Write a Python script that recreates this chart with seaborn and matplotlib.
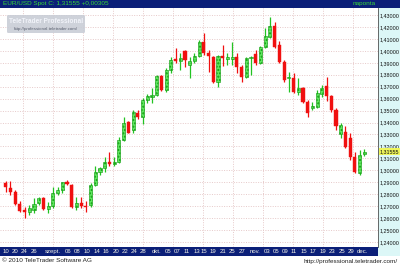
import matplotlib
matplotlib.use('Agg')
import matplotlib.pyplot as plt
import matplotlib.transforms as mtransforms
from matplotlib.patches import Rectangle, FancyBboxPatch
import seaborn as sns
import pandas as pd

# ---------------- data (EUR/USD daily candles) ----------------
opens = [1.2896, 1.2854, 1.2821, 1.2718, 1.2668, 1.2654, 1.2668, 1.2724, 1.2766, 1.2674,
         1.2701, 1.2808, 1.2835, 1.2905, 1.2877, 1.2690, 1.2723, 1.2705, 1.2710, 1.2877,
         1.2988, 1.3017, 1.3072, 1.3053, 1.3072, 1.3254, 1.3407, 1.3334, 1.3481, 1.3444,
         1.3589, 1.3611, 1.3630, 1.3789, 1.3672, 1.3840, 1.3929, 1.3918, 1.3999, 1.3882,
         1.3918, 1.3959, 1.4077, 1.3979, 1.3951, 1.3742, 1.3957, 1.3929, 1.3934, 1.3951,
         1.3862, 1.3784, 1.3937, 1.3973, 1.3896, 1.4029, 1.4118, 1.4208, 1.4049, 1.3909,
         1.3770, 1.3770, 1.3658, 1.3686, 1.3574, 1.3519, 1.3532, 1.3639, 1.3706, 1.3622,
         1.3505, 1.3300, 1.3323, 1.3271, 1.3111, 1.2978, 1.3137]
highs = [1.2912, 1.2913, 1.2835, 1.2740, 1.2696, 1.2710, 1.2768, 1.2779, 1.2779, 1.2737,
         1.2860, 1.2863, 1.2905, 1.2917, 1.2885, 1.2777, 1.2777, 1.2745, 1.2891, 1.3036,
         1.3030, 1.3114, 1.3156, 1.3114, 1.3281, 1.3444, 1.3413, 1.3505, 1.3505, 1.3603,
         1.3639, 1.3687, 1.3798, 1.3798, 1.3854, 1.3946, 1.4021, 1.3979, 1.4007, 1.3951,
         1.3984, 1.4091, 1.4152, 1.4007, 1.3957, 1.3965, 1.4049, 1.3979, 1.4077, 1.3979,
         1.3882, 1.3946, 1.3957, 1.4007, 1.4040, 1.4189, 1.4281, 1.4244, 1.4085, 1.3923,
         1.3826, 1.3812, 1.3770, 1.3700, 1.3589, 1.3574, 1.3672, 1.3714, 1.3784, 1.3630,
         1.3522, 1.3400, 1.3371, 1.3312, 1.3153, 1.3170, 1.3178]
lows = [1.2820, 1.2793, 1.2710, 1.2654, 1.2601, 1.2626, 1.2643, 1.2710, 1.2668, 1.2641,
        1.2682, 1.2793, 1.2808, 1.2877, 1.2682, 1.2668, 1.2682, 1.2654, 1.2696, 1.2869,
        1.2961, 1.2988, 1.3036, 1.3036, 1.3059, 1.3248, 1.3310, 1.3310, 1.3427, 1.3388,
        1.3561, 1.3561, 1.3622, 1.3667, 1.3658, 1.3812, 1.3896, 1.3840, 1.3867, 1.3770,
        1.3896, 1.3951, 1.3965, 1.3825, 1.3734, 1.3700, 1.3873, 1.3882, 1.3882, 1.3812,
        1.3742, 1.3770, 1.3798, 1.3882, 1.3887, 1.4021, 1.4105, 1.4021, 1.3896, 1.3742,
        1.3658, 1.3645, 1.3630, 1.3561, 1.3449, 1.3505, 1.3519, 1.3611, 1.3583, 1.3490,
        1.3340, 1.3270, 1.3184, 1.3086, 1.2978, 1.2961, 1.3120]
closes = [1.2863, 1.2821, 1.2718, 1.2662, 1.2654, 1.2682, 1.2718, 1.2766, 1.2674, 1.2701,
          1.2808, 1.2835, 1.2900, 1.2886, 1.2690, 1.2723, 1.2701, 1.2691, 1.2877, 1.2988,
          1.3017, 1.3072, 1.3053, 1.3072, 1.3254, 1.3398, 1.3315, 1.3491, 1.3444, 1.3589,
          1.3622, 1.3630, 1.3789, 1.3672, 1.3840, 1.3923, 1.3918, 1.3937, 1.3923, 1.3918,
          1.3959, 1.4077, 1.3979, 1.3957, 1.3742, 1.3957, 1.3938, 1.3951, 1.3951, 1.3867,
          1.3784, 1.3938, 1.3951, 1.3901, 1.4029, 1.4124, 1.4208, 1.4029, 1.3909, 1.3756,
          1.3781, 1.3658, 1.3686, 1.3574, 1.3477, 1.3538, 1.3645, 1.3686, 1.3622, 1.3505,
          1.3370, 1.3379, 1.3198, 1.3111, 1.2986, 1.3128, 1.31555]

x_labels = ["10", "20", "24", "26", "szept.", "06", "08", "10", "14", "16", "20", "22", "24",
            "28", "okt.", "05", "07", "11", "13", "15", "19", "21", "25", "27", "nov.", "03",
            "05", "09", "11", "15", "17", "19", "23", "25", "29", "dec."]
x_label_pos = [0, 2, 4, 6, 10, 13.2, 15.1, 17.2, 19.3, 21.2, 23.4, 25.3, 27.2, 29.1, 32,
               34.4, 36.3, 38.4, 40.5, 42, 43.9, 46, 48, 50, 52.8, 55.4, 57.3, 59.2, 61.1,
               63.2, 65.1, 67.2, 69.1, 71.2, 73.1, 75.5]
y_ticks = [1.24, 1.25, 1.26, 1.27, 1.28, 1.29, 1.30, 1.31, 1.32, 1.33, 1.34, 1.35, 1.36,
           1.37, 1.38, 1.39, 1.40, 1.41, 1.42, 1.43]
last_price_label = "1,31555"
title_text = "EUR/USD Spot C: 1,31555 +0,00305"

df = pd.DataFrame({"open": opens, "high": highs, "low": lows, "close": closes})
df["idx"] = range(len(df))
df["up"] = df["close"] >= df["open"]

# ---------------- style ----------------
sns.set_theme(style="white")
plt.rcParams['font.family'] = ['Liberation Sans Narrow', 'Liberation Sans', 'DejaVu Sans']

W, H = 400, 266
fig = plt.figure(figsize=(4.0, 2.66), dpi=100)
fig.patch.set_facecolor('white')

ax_left, ax_right, ax_top, ax_bot = 0, 378, 8, 247
ax = fig.add_axes([ax_left / W, (H - ax_bot) / H, (ax_right - ax_left) / W, (ax_bot - ax_top) / H])
ax.set_facecolor('white')

# right value panel and bars (behind the axes)
fig.patches.append(Rectangle((ax_right / W, (H - 256) / H), (W - ax_right) / W, (256 - ax_top) / H,
                             transform=fig.transFigure, facecolor='#dcf7f7', edgecolor='none', zorder=-2))
navy = '#0b1f78'
fig.patches.append(Rectangle((0, (H - 8) / H), 1, 8 / H, transform=fig.transFigure,
                             facecolor=navy, edgecolor='none', zorder=-1))
fig.patches.append(Rectangle((0, (H - 256) / H), ax_right / W, 9 / H, transform=fig.transFigure,
                             facecolor=navy, edgecolor='none', zorder=-1))

green = '#22c322'
red = '#f01010'
up = df[df["up"]]
dn = df[~df["up"]]

ax.vlines(up["idx"], up["low"], up["high"], color=green, linewidth=0.9, zorder=3)
ax.vlines(dn["idx"], dn["low"], dn["high"], color=red, linewidth=0.9, zorder=3)
ax.bar(up["idx"], (up["close"] - up["open"]).clip(lower=0.00015), bottom=up["open"], width=0.66,
       color='#5ee65e', edgecolor='#0f9a0f', linewidth=0.4, hatch='.....', zorder=4)
ax.bar(dn["idx"], (dn["open"] - dn["close"]).clip(lower=0.00015), bottom=dn["close"], width=0.66,
       color=red, edgecolor=red, linewidth=0.3, zorder=4)

ax.set_xlim(-1.2, 78.9)
ax.set_ylim(1.2358, 1.4359)

# grid
ax.set_yticks(y_ticks)
ax.set_yticklabels([("%.5f" % v).replace('.', ',') for v in y_ticks])
grid_x = [3.73 + 6.36 * k for k in range(12)]
ax.set_xticks(grid_x, minor=True)
ax.set_xticks(x_label_pos)
ax.set_xticklabels(x_labels)
ax.grid(axis='y', which='major', color='#e6c9c9', linestyle=(0, (1, 1.5)), linewidth=0.7, zorder=0)
ax.grid(axis='x', which='minor', color='#e6c9c9', linestyle=(0, (1, 1.5)), linewidth=0.7, zorder=0)
ax.grid(axis='x', which='major', visible=False)

ax.yaxis.tick_right()
ax.tick_params(axis='y', which='both', length=0, pad=1.4, labelsize=3.9, labelcolor='#111111')
ax.tick_params(axis='x', which='both', length=0, pad=1.3, labelsize=4.3, labelcolor='#f4f4e8')

for s in ['left', 'top', 'bottom']:
    ax.spines[s].set_visible(False)
ax.spines['right'].set_color('#505050')
ax.spines['right'].set_linewidth(0.6)

# current price marker
trans = mtransforms.blended_transform_factory(ax.transAxes, ax.transData)
ax.text(1.005, closes[-1], last_price_label, transform=trans, fontsize=3.9, color='#111111',
        ha='left', va='center', zorder=10, clip_on=False,
        bbox=dict(facecolor='#eef55a', edgecolor='none', pad=0.6))

# header texts
fig.text(3 / W, (H - 4) / H, title_text, fontsize=4.6, color='#38d838', ha='left', va='center')
fig.text(376 / W, (H - 4) / H, "naponta", fontsize=4.6, color='#38d838', ha='right', va='center')

# watermark
fig.patches.append(FancyBboxPatch((7 / W, (H - 33) / H), 78 / W, 18 / H, transform=fig.transFigure,
                                  boxstyle='round,pad=0,rounding_size=0.004', facecolor='#c9cdd6',
                                  edgecolor='none', alpha=0.9, zorder=5))
fig.text(46 / W, (H - 21.5) / H, "TeleTrader Professional", fontsize=4.7, fontweight='bold',
         color='#f2f4fa', ha='center', va='center', zorder=6)
fig.text(46 / W, (H - 29) / H, "http://professional.teletrader.com/", fontsize=3.2,
         color='#5a6070', ha='center', va='center', zorder=6)

# footer texts
fig.text(2 / W, (H - 261) / H, "\u00a9 2010 TeleTrader Software AG", fontsize=4.6, color='#222222',
         ha='left', va='center')
fig.text(398 / W, (H - 261) / H, "http://professional.teletrader.com/", fontsize=4.6, color='#222222',
         ha='right', va='center')

fig.savefig('out.png', dpi=100)
